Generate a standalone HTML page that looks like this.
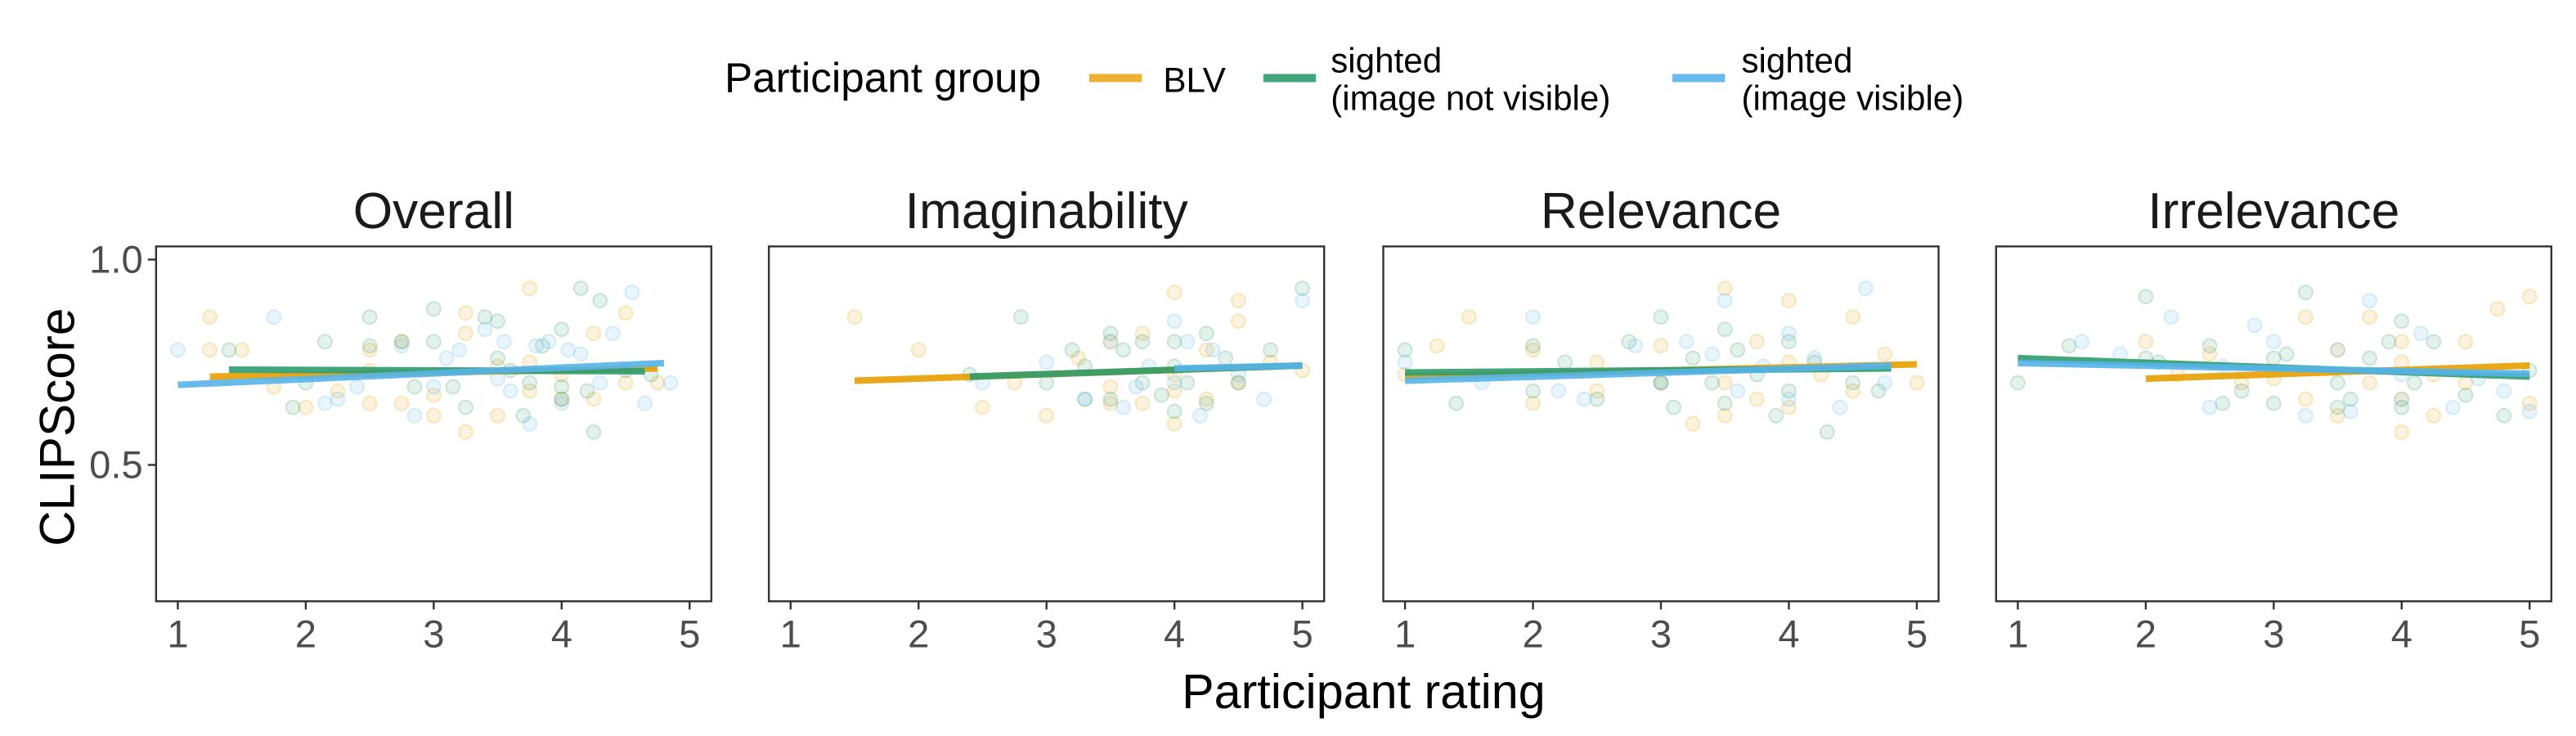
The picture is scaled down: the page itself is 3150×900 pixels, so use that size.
<!DOCTYPE html>
<html><head><meta charset="utf-8">
<style>
html,body{margin:0;padding:0;background:#fff;}
svg{display:block;font-family:"Liberation Sans",Arial,sans-serif;}
</style></head>
<body>
<svg id="chart" width="3150" height="900" viewBox="0 0 1568 448" xmlns="http://www.w3.org/2000/svg">
<g>
  <text x="441" y="56" font-size="25.5" fill="#000">Participant group</text>
  <g>
    <rect x="663" y="45" width="32" height="5" fill="#E69F00" opacity="0.8"/>
    <text x="708" y="56" font-size="21" fill="#000">BLV</text>
  </g>
  <g>
    <rect x="769" y="45" width="32" height="5" fill="#2E9B6E" opacity="0.9"/>
    <text x="810" y="44" font-size="21" fill="#000">sighted</text>
    <text x="810" y="67" font-size="21" fill="#000">(image not visible)</text>
  </g>
  <g>
    <rect x="1018" y="45" width="32" height="5" fill="#56B4E9" opacity="0.9"/>
    <text x="1060" y="44" font-size="21" fill="#000">sighted</text>
    <text x="1060" y="67" font-size="21" fill="#000">(image visible)</text>
  </g>
</g>
<text transform="translate(45,260) rotate(-90)" text-anchor="middle" font-size="30" fill="#000">CLIPScore</text>
<text x="830" y="431" text-anchor="middle" font-size="29.5" fill="#000">Participant rating</text>
<g id="panels"></g>
</svg>
<script>
const panelTitles = ["Overall","Imaginability","Relevance","Irrelevance"];
const xTicks = [1,2,3,4,5];
const yTicks = [0.5,1.0];
const yTickLabels = ["0.5","1.0"];
const groups = ["BLV","sighted-not-visible","sighted-visible"];
// regression lines per panel per group: [x0,x1,y0,y1]
const lineBLV = [[1.25,4.75,0.715,0.735],[1.5,5.0,0.705,0.742],[1.0,5.0,0.715,0.745],[2.0,5.0,0.710,0.742]];
const lineGreen = [[1.4,4.65,0.732,0.728],[2.4,5.0,0.715,0.742],[1.0,4.8,0.725,0.735],[1.0,5.0,0.760,0.715]];
const lineBlue = [[1.0,4.8,0.695,0.748],[4.0,5.0,0.735,0.742],[1.0,4.8,0.705,0.742],[1.0,5.0,0.748,0.722]];
// scatter points: x values and y values per panel per group
const ptsX_BLV = [
 [1.25,1.25,1.5,1.75,2.0,2.25,2.5,2.5,2.75,2.75,3.0,3.0,3.25,3.25,3.5,3.5,3.75,3.75,4.0,4.0,4.25,4.25,4.5,4.5,4.75,3.25,3.75,2.5],
 [1.5,2.0,2.5,2.75,3.0,3.25,3.5,3.5,3.75,3.75,4.0,4.0,4.0,4.25,4.25,4.5,4.5,4.75,5.0,3.5,4.0,4.5],
 [1.0,1.25,1.5,2.0,2.0,2.5,2.5,3.0,3.0,3.25,3.5,3.5,3.75,3.75,4.0,4.0,4.25,4.5,4.5,4.75,5.0,3.5,4.0],
 [2.0,2.25,2.5,2.75,3.0,3.25,3.25,3.5,3.5,3.75,3.75,4.0,4.0,4.0,4.25,4.25,4.5,4.5,4.75,5.0,5.0,4.0]
];
const ptsY_BLV = [
 [0.86,0.78,0.78,0.69,0.64,0.68,0.78,0.65,0.80,0.65,0.62,0.67,0.87,0.58,0.74,0.62,0.93,0.68,0.72,0.66,0.82,0.66,0.87,0.70,0.70,0.82,0.75,0.73],
 [0.86,0.78,0.64,0.70,0.62,0.76,0.69,0.80,0.82,0.65,0.92,0.72,0.60,0.78,0.66,0.90,0.70,0.75,0.73,0.65,0.68,0.85],
 [0.72,0.79,0.86,0.78,0.65,0.75,0.68,0.79,0.70,0.60,0.93,0.70,0.80,0.66,0.90,0.64,0.72,0.86,0.68,0.77,0.70,0.62,0.75],
 [0.80,0.72,0.77,0.70,0.71,0.86,0.66,0.78,0.62,0.86,0.70,0.80,0.66,0.58,0.72,0.62,0.80,0.70,0.88,0.91,0.65,0.75]
];
const ptsX_G = [
 [1.4,1.9,2.0,2.15,2.5,2.5,2.75,2.85,3.0,3.0,3.15,3.25,3.4,3.5,3.5,3.6,3.7,3.75,3.85,4.0,4.0,4.0,4.15,4.2,4.25,4.3,4.5,4.7],
 [2.4,2.8,3.0,3.2,3.3,3.5,3.5,3.6,3.75,3.75,3.9,4.0,4.0,4.0,4.1,4.25,4.25,4.4,4.5,4.75,5.0,3.3],
 [1.0,1.4,2.0,2.0,2.25,2.5,2.75,3.0,3.0,3.1,3.25,3.4,3.5,3.5,3.6,3.75,3.9,4.0,4.0,4.2,4.3,4.5,4.7],
 [1.0,1.4,2.0,2.0,2.1,2.5,2.6,2.75,3.0,3.0,3.1,3.25,3.5,3.5,3.6,3.75,3.9,4.0,4.0,4.1,4.25,4.5,4.8,5.0]
];
const ptsY_G = [
 [0.78,0.64,0.70,0.80,0.86,0.79,0.80,0.69,0.88,0.80,0.69,0.64,0.86,0.85,0.76,0.73,0.62,0.70,0.79,0.83,0.69,0.66,0.93,0.68,0.58,0.90,0.73,0.72],
 [0.72,0.86,0.70,0.78,0.74,0.82,0.66,0.78,0.80,0.70,0.67,0.74,0.63,0.80,0.70,0.82,0.65,0.76,0.70,0.78,0.93,0.66],
 [0.78,0.65,0.79,0.68,0.75,0.66,0.80,0.70,0.86,0.64,0.76,0.70,0.83,0.65,0.78,0.72,0.62,0.80,0.68,0.75,0.58,0.70,0.68],
 [0.70,0.79,0.91,0.76,0.75,0.79,0.65,0.68,0.76,0.65,0.77,0.92,0.70,0.64,0.66,0.76,0.80,0.85,0.64,0.70,0.80,0.67,0.62,0.73]
];
const ptsX_B = [
 [1.0,1.75,2.15,2.25,2.4,2.75,2.85,3.0,3.1,3.2,3.4,3.5,3.55,3.6,3.75,3.8,3.9,4.0,4.05,4.15,4.3,4.4,4.55,4.65,4.85],
 [2.5,3.0,3.3,3.5,3.7,3.8,4.0,4.0,4.2,4.3,4.5,4.7,5.0,4.1,3.6],
 [1.0,1.6,2.0,2.4,2.8,3.0,3.2,3.5,3.6,3.8,4.0,4.0,4.2,4.4,4.6,4.75,3.4,2.2],
 [1.5,1.8,2.2,2.5,2.85,3.0,3.25,3.5,3.6,3.75,4.0,4.0,4.15,4.4,4.6,4.8,5.0,2.6]
];
const ptsY_B = [
 [0.78,0.86,0.65,0.66,0.69,0.79,0.62,0.69,0.76,0.78,0.83,0.71,0.80,0.68,0.60,0.79,0.80,0.65,0.78,0.77,0.70,0.82,0.92,0.65,0.70],
 [0.70,0.75,0.66,0.80,0.69,0.74,0.85,0.70,0.62,0.78,0.72,0.66,0.90,0.80,0.64],
 [0.75,0.70,0.86,0.66,0.79,0.70,0.80,0.90,0.68,0.74,0.82,0.66,0.76,0.64,0.93,0.70,0.77,0.68],
 [0.80,0.77,0.86,0.64,0.84,0.80,0.62,0.78,0.63,0.90,0.72,0.66,0.82,0.64,0.71,0.68,0.63,0.74]
];
const colors = ["#E69F00","#2E9B6E","#56B4E9"];
const panelLeft = [95,468,842,1215];
const panelW = 338, panelTop = 150, panelH = 216;
const xMin = 0.83, xMax = 5.17, yMin = 0.168, yMax = 1.032;
const NS = "http://www.w3.org/2000/svg";
const root = document.getElementById("panels");
function mk(tag, attrs){ const e = document.createElementNS(NS, tag); for (const k in attrs) e.setAttribute(k, attrs[k]); return e; }
function sx(p, v){ return panelLeft[p] + (v - xMin) / (xMax - xMin) * panelW; }
function sy(v){ return panelTop + (yMax - v) / (yMax - yMin) * panelH; }
const ptsX = [ptsX_BLV, ptsX_G, ptsX_B];
const ptsY = [ptsY_BLV, ptsY_G, ptsY_B];
const lines = [lineBLV, lineGreen, lineBlue];
for (let p = 0; p < 4; p++) {
  const g = mk("g", {});
  
  
  root.appendChild(g);
  const t = mk("text", {x: panelLeft[p] + panelW/2, y: 139, "text-anchor": "middle", "font-size": 31, fill: "#1a1a1a"});
  t.textContent = panelTitles[p];
  
  
  g.appendChild(t);
  for (let s = 0; s < 3; s++) {
    for (let i = 0; i < ptsX[s][p].length; i++) {
      const c = mk("circle", {cx: sx(p, ptsX[s][p][i]), cy: sy(ptsY[s][p][i]), r: 4.2, fill: colors[s], "fill-opacity": 0.13, stroke: colors[s], "stroke-opacity": 0.22, "stroke-width": 1});
      
      
      g.appendChild(c);
    }
  }
  for (let s = 0; s < 3; s++) {
    const L = lines[s][p];
    const l = mk("line", {x1: sx(p, L[0]), x2: sx(p, L[1]), y1: sy(L[2]), y2: sy(L[3]), stroke: colors[s], "stroke-width": 4, "stroke-opacity": 0.9});
    
    
    g.appendChild(l);
  }
  const fr = mk("rect", {x: panelLeft[p], y: panelTop, width: panelW, height: panelH, fill: "none", stroke: "#333", "stroke-width": 1.2});
  
  
  g.appendChild(fr);
  for (const v of xTicks) {
    const tk = mk("line", {x1: sx(p, v), x2: sx(p, v), y1: panelTop + panelH, y2: panelTop + panelH + 5, stroke: "#333", "stroke-width": 1.2});
    
    
    g.appendChild(tk);
    const tl = mk("text", {x: sx(p, v), y: panelTop + panelH + 28, "text-anchor": "middle", "font-size": 23.5, fill: "#4d4d4d"});
    tl.textContent = String(v);
    
    
    g.appendChild(tl);
  }
  if (p === 0) {
    for (let i = 0; i < yTicks.length; i++) {
      const tk = mk("line", {x1: panelLeft[0] - 5, x2: panelLeft[0], y1: sy(yTicks[i]), y2: sy(yTicks[i]), stroke: "#333", "stroke-width": 1.2});
      
      
      g.appendChild(tk);
      const tl = mk("text", {x: panelLeft[0] - 8, y: sy(yTicks[i]) + 8, "text-anchor": "end", "font-size": 23.5, fill: "#4d4d4d"});
      tl.textContent = yTickLabels[i];
      
      
      g.appendChild(tl);
    }
  }
}
</script>
</body></html>
